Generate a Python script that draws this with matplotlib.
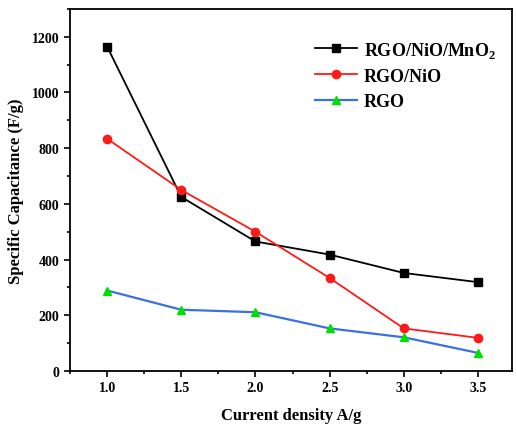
import matplotlib.pyplot as plt
from matplotlib.ticker import MultipleLocator

plt.rcParams['font.family'] = 'Liberation Serif'
plt.rcParams['font.weight'] = 'bold'
plt.rcParams['mathtext.fontset'] = 'custom'
plt.rcParams['mathtext.rm'] = 'Liberation Serif:bold'
plt.rcParams['mathtext.bf'] = 'Liberation Serif:bold'

current = [1.0, 1.5, 2.0, 2.5, 3.0, 3.5]
rgo_nio_mno2 = [1165, 625, 465, 418, 352, 319]
rgo_nio = [834, 650, 500, 334, 153, 119]
rgo = [289, 220, 211, 153, 121, 65]

fig = plt.figure(figsize=(5.17, 4.27), dpi=100)
ax = fig.add_axes([0.1354, 0.1288, 0.855, 0.848])

ax.plot(current, rgo_nio_mno2, '-s', color='black', lw=1.3, ms=5.5, label='RGO/NiO/MnO$_\\mathrm{2}$')
ax.plot(current, rgo_nio, '-o', color='#ff1a1a', lw=1.3, ms=6, label='RGO/NiO')
ax.plot(current, rgo, '-^', color='#3a70e0', mfc='#00e000', mec='#00e000', lw=1.6, ms=6, label='RGO')

ax.set_xlim(0.75, 3.73)
ax.set_ylim(0, 1300)
ax.set_xticks(current)
ax.xaxis.set_minor_locator(MultipleLocator(0.25))
ax.yaxis.set_major_locator(MultipleLocator(200))
ax.yaxis.set_minor_locator(MultipleLocator(100))
ax.tick_params(which='both', direction='out', width=1.2, labelsize=10)
ax.tick_params(which='major', length=4)
ax.tick_params(which='minor', length=2.5)
for s in ax.spines.values():
    s.set_linewidth(1.3)

ax.set_xlabel('Current density A/g', fontsize=12, fontweight='bold', labelpad=9)
ax.set_ylabel('Specific Capacitance (F/g)', fontsize=12, fontweight='bold', labelpad=6)

ax.legend(loc='upper right', bbox_to_anchor=(1.0, 0.96), frameon=False,
          handlelength=2.3, handletextpad=0.4, labelspacing=0.45,
          prop={'weight': 'bold', 'size': 13})

fig.savefig('out.png', dpi=100)
